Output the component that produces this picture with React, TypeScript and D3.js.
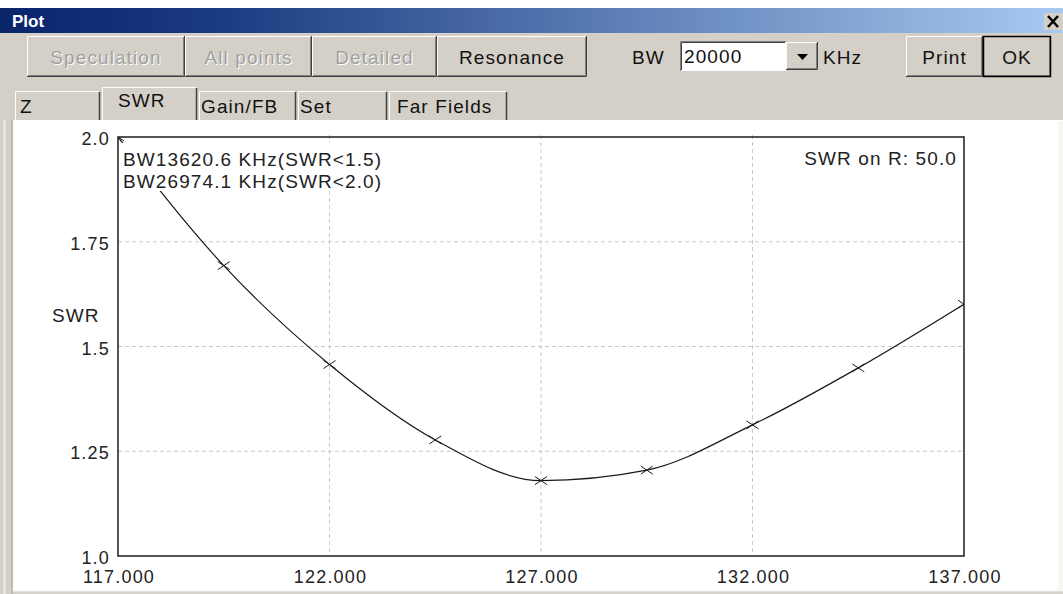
import React from 'react';
import * as d3 from 'd3';

// SWR sweep values (frequency in MHz)
const freqs = [117, 119.5, 122, 124.5, 127, 129.5, 132, 134.5, 137];
const swr = [2.0, 1.693, 1.457, 1.277, 1.18, 1.205, 1.313, 1.449, 1.601];

const xTicks = [117, 122, 127, 132, 137];
const yTicks = [1.0, 1.25, 1.5, 1.75, 2.0];
const yTickLabels = ['1.0', '1.25', '1.5', '1.75', '2.0'];

const bwLabels = ['BW13620.6 KHz(SWR<1.5)', 'BW26974.1 KHz(SWR<2.0)'];
const swrOnR = 'SWR on R: 50.0';

const toolButtons = ['Speculation', 'All points', 'Detailed', 'Resonance'];
const toolDisabled = [true, true, true, false];
const tabNames = ['Z', 'SWR', 'Gain/FB', 'Set', 'Far Fields'];

const W = 1063;
const H = 594;
const FACE = '#d4d0c8';
const FONT = '"Liberation Sans", Arial, sans-serif';

// window layout (x edges of buttons / tabs)
const toolEdges = [27, 185, 312, 437, 587];
const tabEdges = [15, 100, 197, 296, 387, 507];
const tabTextX = [20, 118, 201, 300, 397];

type BtnProps = { x0: number; x1: number; y0: number; y1: number; label: string; disabled?: boolean; def?: boolean };

function Btn({ x0, x1, y0, y1, label, disabled, def }: BtnProps) {
  const cx = (x0 + x1) / 2;
  const ty = (y0 + y1) / 2 + 7;
  return (
    <g>
      <rect x={x0} y={y0} width={x1 - x0} height={y1 - y0} fill={FACE} />
      <path d={`M${x0 + 0.5},${y1 - 1} V${y0 + 0.5} H${x1 - 1}`} stroke="#fff" fill="none" />
      <path d={`M${x0 + 1},${y1 - 1.5} H${x1 - 1.5} V${y0 + 1}`} stroke="#808080" fill="none" />
      <path d={`M${x0},${y1 - 0.5} H${x1 - 0.5} V${y0}`} stroke="#404040" fill="none" />
      {def && <rect x={x0 + 0.5} y={y0 + 0.5} width={x1 - x0 - 1} height={y1 - y0 - 1} fill="none" stroke="#000" strokeWidth={1.5} />}
      {disabled && (
        <text x={cx + 1} y={ty + 1} textAnchor="middle" fill="#fff" fontSize={19} letterSpacing={1.1} fontFamily={FONT}>
          {label}
        </text>
      )}
      <text x={cx} y={ty} textAnchor="middle" fill={disabled ? '#a0a0a0' : '#111'} fontSize={19} letterSpacing={1.1} fontFamily={FONT}>
        {label}
      </text>
    </g>
  );
}

export default function App() {
  const x = d3.scaleLinear().domain([117, 137]).range([118, 964]);
  const y = d3.scaleLinear().domain([1, 2]).range([556, 137]);

  const pts = freqs.map((f, i) => [f, swr[i]] as [number, number]);
  const line = d3
    .line<[number, number]>()
    .x((d) => x(d[0]))
    .y((d) => y(d[1]))
    .curve(d3.curveMonotoneX);

  const [px0, px1] = x.range();
  const [py1, py0] = y.range();

  return (
    <svg width={W} height={H} style={{ position: 'absolute', left: 0, top: 0, background: '#fff' }} fontFamily={FONT}>
      <defs>
        <linearGradient id="title" x1="0" x2="1" y1="0" y2="0">
          <stop offset="0" stopColor="#0a246a" />
          <stop offset="0.2" stopColor="#1a3a80" />
          <stop offset="1" stopColor="#a6caf0" />
        </linearGradient>
        <clipPath id="plotclip">
          <rect x={px0} y={py0} width={px1 - px0} height={py1 - py0} />
        </clipPath>
      </defs>

      {/* window frame */}
      <rect x={0} y={33} width={W} height={H - 33} fill={FACE} />
      <rect x={0} y={8} width={W} height={25} fill="url(#title)" />
      <text x={12} y={27} fill="#fff" fontWeight="bold" fontSize={17}>Plot</text>
      <rect x={1044} y={13} width={19} height={17} fill={FACE} />
      <path d="M1048,16 L1058,27 M1058,16 L1048,27" stroke="#000" strokeWidth={2.5} />

      {/* toolbar */}
      {toolButtons.map((b, i) => (
        <Btn key={b} x0={toolEdges[i]} x1={toolEdges[i + 1]} y0={36} y1={77} label={b} disabled={toolDisabled[i]} />
      ))}
      <text x={632} y={64} fontSize={19} letterSpacing={1.1} fill="#111">BW</text>
      <rect x={680} y={41} width={106} height={30} fill="#fff" />
      <path d="M680.5,71 V41.5 H786" stroke="#808080" fill="none" />
      <path d="M681.5,70 V42.5 H785" stroke="#404040" fill="none" />
      <text x={684} y={63} fontSize={19} letterSpacing={1.1} fill="#111">20000</text>
      <Btn x0={786} x1={818} y0={42} y1={70} label="" />
      <path d="M797,54 H808 L802.5,60 Z" fill="#000" />
      <text x={823} y={64} fontSize={19} letterSpacing={1.1} fill="#111">KHz</text>
      <Btn x0={906} x1={983} y0={36} y1={77} label="Print" />
      <Btn x0={983} x1={1051} y0={36} y1={77} label="OK" def />

      {/* tabs */}
      {tabNames.map((t, i) => {
        const sel = i === 1;
        const x0 = tabEdges[i] + (i > 0 ? 2 : 0);
        const x1 = tabEdges[i + 1];
        const top = sel ? 87 : 91;
        return (
          <g key={t}>
            <rect x={x0} y={top} width={x1 - x0} height={121 - top} fill={FACE} />
            <path d={`M${x0 + 0.5},121 V${top + 0.5} H${x1 - 1}`} stroke="#fff" fill="none" />
            <path d={`M${x1 - 0.5},${top + 1} V120`} stroke="#404040" fill="none" strokeWidth={1.5} />
            <text x={tabTextX[i]} y={sel ? 107 : 113} fontSize={19} letterSpacing={1.1} fill="#111">{t}</text>
          </g>
        );
      })}

      {/* plot panel */}
      <rect x={13} y={120} width={W - 13} height={471} fill="#fff" />
      <path d="M13.5,591 V120.5 H195 M296,120.5 H1063" stroke="#fff" fill="none" />
      <path d="M4.5,120 V594" stroke="#ecebe6" strokeWidth={2} />
      <path d="M12,120 V594" stroke="#a8a59c" strokeWidth={1} />
      <path d="M13,591.5 H1063" stroke="#e4e2dc" strokeWidth={1.5} />
      <rect x={1058} y={121} width={5} height={470} fill="#f7f7f2" />

      {/* grid */}
      {xTicks.slice(1, -1).map((t) => (
        <line key={'gx' + t} x1={x(t)} x2={x(t)} y1={py0 - 2} y2={py1} stroke="#c8c8c8" strokeDasharray="4,3" />
      ))}
      {yTicks.slice(1, -1).map((t) => (
        <line key={'gy' + t} x1={px0} x2={px1} y1={y(t)} y2={y(t)} stroke="#c8c8c8" strokeDasharray="4,3" />
      ))}

      {/* series */}
      <g clipPath="url(#plotclip)">
        <path d={line(pts) || ''} fill="none" stroke="#1a1a1a" strokeWidth={1.2} />
        {pts.map((p, i) => {
          const cx = x(p[0]);
          const cy = y(p[1]);
          return (
            <path key={i} d={`M${cx - 6},${cy - 4} L${cx + 6},${cy + 4} M${cx - 6},${cy + 4} L${cx + 6},${cy - 4}`} stroke="#1a1a1a" strokeWidth={1} />
          );
        })}
      </g>

      {/* frame */}
      <rect x={px0} y={py0} width={px1 - px0} height={py1 - py0} fill="none" stroke="#2a2a2a" strokeWidth={1.6} />

      {/* annotations */}
      <rect x={120} y={143} width={272} height={48} fill="#fff" />
      {bwLabels.map((s, i) => (
        <text key={s} x={123} y={166 + i * 22} fontSize={19} letterSpacing={1.1} fill="#222">{s}</text>
      ))}
      <text x={957} y={165} textAnchor="end" fontSize={19} letterSpacing={1.1} fill="#222">{swrOnR}</text>
      <text x={52} y={322} fontSize={19} letterSpacing={1.1} fill="#222">SWR</text>

      {/* tick labels */}
      {yTicks.map((t, i) => (
        <text key={'yl' + t} x={110} y={y(t) + 8} textAnchor="end" fontSize={18} letterSpacing={1.2} fill="#222">
          {yTickLabels[i]}
        </text>
      ))}
      {xTicks.map((t) => (
        <text key={'xl' + t} x={x(t) + 1} y={583} textAnchor="middle" fontSize={18} letterSpacing={1.2} fill="#222">
          {d3.format('.3f')(t)}
        </text>
      ))}
    </svg>
  );
}
